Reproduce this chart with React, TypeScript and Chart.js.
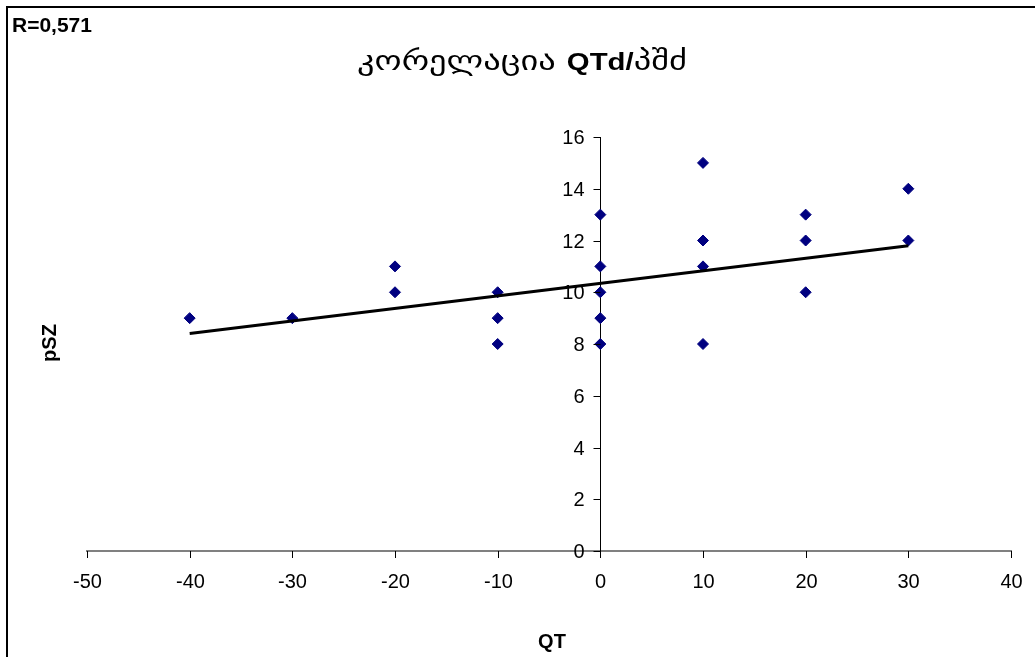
import React, { useEffect, useRef } from "react";
import { Chart, registerables } from "chart.js";

Chart.register(...registerables);

// QT dispersion vs pSZ observations
const qtValues = [-40, -30, -20, -20, -10, -10, -10, 0, 0, 0, 0, 0, 10, 10, 10, 10, 20, 20, 20, 30, 30];
const pszValues = [9, 9, 11, 10, 10, 9, 8, 13, 11, 10, 9, 8, 15, 12, 11, 8, 13, 12, 10, 14, 12];

// Linear trend line endpoints
const trendX = [-40, 30];
const trendY = [8.41, 11.8];

const xTicks = [-50, -40, -30, -20, -10, 0, 10, 20, 30, 40];
const yTicks = [0, 2, 4, 6, 8, 10, 12, 14, 16];

const titleGeorgian = "კორელაცია ";
const titleLatin = "QTd/";
const titleTail = "პშძ";
const correlationLabel = "R=0,571";
const xTitle = "QT";
const yTitle = "pSZ";

const W = 1035;
const H = 657;
const SANS = "'Liberation Sans', Arial, sans-serif";

const decorations = {
  id: "decorations",
  beforeDraw(chart: any) {
    const ctx = chart.ctx;
    ctx.save();
    ctx.fillStyle = "#ffffff";
    ctx.fillRect(0, 0, W, H);
    // frame (top and left edges)
    ctx.strokeStyle = "#000000";
    ctx.lineWidth = 2;
    ctx.beginPath();
    ctx.moveTo(7, H);
    ctx.lineTo(7, 7);
    ctx.lineTo(W, 7);
    ctx.stroke();
    ctx.restore();
  },
  afterDatasetsDraw(chart: any) {
    const ctx = chart.ctx;
    const xs = chart.scales.x;
    const ys = chart.scales.y;
    const x0 = Math.round(xs.getPixelForValue(0)) + 0.5;
    const y0 = Math.round(ys.getPixelForValue(0));
    ctx.save();
    // y axis tick marks and labels (left of the crossing axis)
    ctx.strokeStyle = "#000000";
    ctx.lineWidth = 1;
    ctx.fillStyle = "#000000";
    ctx.font = `20px ${SANS}`;
    ctx.textAlign = "right";
    ctx.textBaseline = "middle";
    yTicks.forEach((v) => {
      const py = Math.round(ys.getPixelForValue(v)) + 0.5;
      ctx.beginPath();
      ctx.moveTo(x0 - 7, py);
      ctx.lineTo(x0, py);
      ctx.stroke();
      ctx.fillText(String(v), x0 - 16, py + 1);
    });
    // x axis tick marks and labels (below the crossing axis)
    ctx.strokeStyle = "#000000";
    ctx.textAlign = "center";
    xTicks.forEach((v) => {
      const px = Math.round(xs.getPixelForValue(v)) + 0.5;
      ctx.beginPath();
      ctx.moveTo(px, y0);
      ctx.lineTo(px, y0 + 7);
      ctx.stroke();
      ctx.fillText(String(v), px, y0 + 31);
    });
    ctx.restore();
  },
  afterDraw(chart: any) {
    const ctx = chart.ctx;
    ctx.save();
    ctx.fillStyle = "#000000";
    ctx.textBaseline = "alphabetic";

    // correlation coefficient
    ctx.font = `bold 21px ${SANS}`;
    ctx.textAlign = "left";
    ctx.fillText(correlationLabel, 12, 32);

    // title, mixed scripts, stretched to its box
    const fGeo = "27px 'DejaVu Sans', sans-serif";
    const fLat = `bold 23px ${SANS}`;
    ctx.font = fGeo;
    const w1 = ctx.measureText(titleGeorgian).width;
    const w3 = ctx.measureText(titleTail).width;
    ctx.font = fLat;
    const w2 = ctx.measureText(titleLatin).width;
    const total = w1 + w2 + w3;
    const target = 330;
    const sx = target / total;
    ctx.translate(522 - target / 2, 70);
    ctx.scale(sx, 1);
    let x = 0;
    ctx.font = fGeo;
    ctx.fillText(titleGeorgian, x, 0);
    x += w1;
    ctx.font = fLat;
    ctx.fillText(titleLatin, x, 0);
    x += w2;
    ctx.font = fGeo;
    ctx.fillText(titleTail, x, 0);
    ctx.restore();

    // axis titles
    ctx.save();
    ctx.fillStyle = "#000000";
    ctx.font = `bold 20px ${SANS}`;
    ctx.textAlign = "center";
    ctx.textBaseline = "middle";
    ctx.fillText(xTitle, 552, 642);
    ctx.translate(50, 343);
    ctx.rotate(-Math.PI / 2);
    ctx.fillText(yTitle, 0, 0);
    ctx.restore();
  },
};

export default function App() {
  const ref = useRef<HTMLCanvasElement>(null);

  useEffect(() => {
    if (!ref.current) return;
    const points = qtValues.map((q, i) => ({ x: q, y: pszValues[i] }));
    const trend = trendX.map((q, i) => ({ x: q, y: trendY[i] }));

    const chart = new Chart(ref.current, {
      type: "scatter",
      data: {
        datasets: [
          {
            type: "line",
            data: trend,
            borderColor: "#000000",
            borderWidth: 3,
            pointRadius: 0,
            fill: false,
            order: 0,
          },
          {
            type: "scatter",
            data: points,
            pointStyle: "rectRot",
            pointRadius: 5.5,
            backgroundColor: "#000080",
            borderColor: "#000080",
            borderWidth: 1,
            order: 1,
          },
        ],
      },
      plugins: [decorations],
      options: {
        responsive: false,
        animation: false,
        events: [],
        layout: { padding: { left: 87, right: 24, top: 137, bottom: 106 } },
        plugins: {
          legend: { display: false },
          tooltip: { enabled: false },
          title: { display: false },
        },
        scales: {
          x: {
            type: "linear",
            min: -50,
            max: 40,
            position: { y: 0 },
            grid: { display: false },
            border: { display: true, color: "#808080", width: 2 },
            ticks: { display: false },
          },
          y: {
            type: "linear",
            min: 0,
            max: 16,
            position: { x: 0 },
            grid: { display: false },
            border: { display: true, color: "#000000", width: 1 },
            ticks: { display: false },
          },
        },
      },
    } as any);

    return () => chart.destroy();
  }, []);

  return (
    <canvas
      ref={ref}
      width={W}
      height={H}
      style={{ position: "fixed", left: 0, top: 0, width: W, height: H }}
    />
  );
}
